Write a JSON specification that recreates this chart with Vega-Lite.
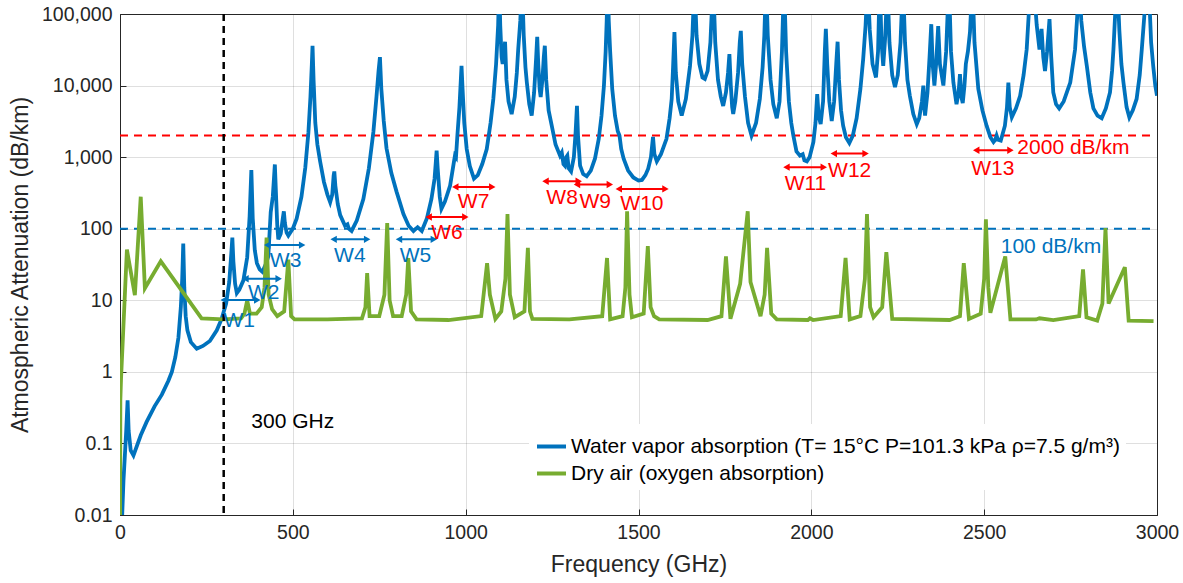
{
"$schema": "https://vega.github.io/schema/vega-lite/v6.json",
"width": 1037, "height": 501,
"autosize": {"type": "none"},
"padding": {"left": 120, "top": 14, "right": 26, "bottom": 68},
"config": {
  "font": "Liberation Sans",
  "view": {"stroke": "#262626", "strokeWidth": 1},
  "axis": {"labelFontSize": 19.5, "labelColor": "#262626", "titleFontSize": 23, "titleFontWeight": "normal", "titleColor": "#262626", "gridColor": "#262626", "gridOpacity": 0.15, "domainColor": "#262626", "tickColor": "#262626", "tickSize": -6, "labelPadding": 14, "labelFlush": false}
},
"datasets": {
  "water": [
{"freq":1,"att":0.002,"series":"water"},{"freq":10,"att":0.03,"series":"water"},{"freq":18,"att":0.15,"series":"water"},{"freq":22,"att":0.4,"series":"water"},{"freq":25,"att":0.15,"series":"water"},{"freq":31,"att":0.08,"series":"water"},{"freq":39,"att":0.068,"series":"water"},{"freq":60,"att":0.13,"series":"water"},{"freq":77,"att":0.2,"series":"water"},{"freq":100,"att":0.33,"series":"water"},{"freq":121,"att":0.48,"series":"water"},{"freq":140,"att":0.75,"series":"water"},{"freq":150,"att":1.0,"series":"water"},{"freq":160,"att":1.6,"series":"water"},{"freq":169,"att":3.0,"series":"water"},{"freq":176,"att":8,"series":"water"},{"freq":180,"att":20,"series":"water"},{"freq":183,"att":62,"series":"water"},{"freq":186,"att":15,"series":"water"},{"freq":190,"att":6,"series":"water"},{"freq":195,"att":3.8,"series":"water"},{"freq":205,"att":2.6,"series":"water"},{"freq":222,"att":2.1,"series":"water"},{"freq":240,"att":2.3,"series":"water"},{"freq":260,"att":2.7,"series":"water"},{"freq":280,"att":3.8,"series":"water"},{"freq":294,"att":5.5,"series":"water"},{"freq":307,"att":9,"series":"water"},{"freq":316,"att":18,"series":"water"},{"freq":322,"att":45,"series":"water"},{"freq":325,"att":75,"series":"water"},{"freq":328,"att":35,"series":"water"},{"freq":333,"att":17,"series":"water"},{"freq":338,"att":12.6,"series":"water"},{"freq":345,"att":14,"series":"water"},{"freq":357,"att":19,"series":"water"},{"freq":368,"att":40,"series":"water"},{"freq":375,"att":150,"series":"water"},{"freq":380,"att":660,"series":"water"},{"freq":384,"att":140,"series":"water"},{"freq":390,"att":50,"series":"water"},{"freq":396,"att":33,"series":"water"},{"freq":404,"att":27,"series":"water"},{"freq":412,"att":25,"series":"water"},{"freq":422,"att":32,"series":"water"},{"freq":429,"att":41,"series":"water"},{"freq":436,"att":170,"series":"water"},{"freq":442,"att":280,"series":"water"},{"freq":448,"att":790,"series":"water"},{"freq":452,"att":250,"series":"water"},{"freq":455,"att":110,"series":"water"},{"freq":458,"att":71,"series":"water"},{"freq":465,"att":85,"series":"water"},{"freq":471,"att":140,"series":"water"},{"freq":474,"att":175,"series":"water"},{"freq":477,"att":120,"series":"water"},{"freq":482,"att":88,"series":"water"},{"freq":487,"att":80,"series":"water"},{"freq":500,"att":100,"series":"water"},{"freq":511,"att":138,"series":"water"},{"freq":525,"att":280,"series":"water"},{"freq":536,"att":710,"series":"water"},{"freq":545,"att":2200,"series":"water"},{"freq":551,"att":7000,"series":"water"},{"freq":555,"att":20000,"series":"water"},{"freq":557,"att":36000,"series":"water"},{"freq":560,"att":12000,"series":"water"},{"freq":565,"att":3000,"series":"water"},{"freq":571,"att":1500,"series":"water"},{"freq":579,"att":870,"series":"water"},{"freq":590,"att":450,"series":"water"},{"freq":600,"att":300,"series":"water"},{"freq":608,"att":235,"series":"water"},{"freq":614,"att":300,"series":"water"},{"freq":618,"att":550,"series":"water"},{"freq":620,"att":630,"series":"water"},{"freq":623,"att":400,"series":"water"},{"freq":630,"att":220,"series":"water"},{"freq":637,"att":155,"series":"water"},{"freq":651,"att":110,"series":"water"},{"freq":658,"att":115,"series":"water"},{"freq":662,"att":100,"series":"water"},{"freq":670,"att":93,"series":"water"},{"freq":685,"att":130,"series":"water"},{"freq":704,"att":260,"series":"water"},{"freq":720,"att":700,"series":"water"},{"freq":733,"att":2250,"series":"water"},{"freq":742,"att":7000,"series":"water"},{"freq":748,"att":16000,"series":"water"},{"freq":752,"att":25000,"series":"water"},{"freq":756,"att":9000,"series":"water"},{"freq":763,"att":3200,"series":"water"},{"freq":771,"att":1330,"series":"water"},{"freq":785,"att":600,"series":"water"},{"freq":800,"att":330,"series":"water"},{"freq":820,"att":160,"series":"water"},{"freq":835,"att":110,"series":"water"},{"freq":849,"att":93,"series":"water"},{"freq":861,"att":105,"series":"water"},{"freq":873,"att":93,"series":"water"},{"freq":888,"att":140,"series":"water"},{"freq":901,"att":260,"series":"water"},{"freq":910,"att":500,"series":"water"},{"freq":914,"att":900,"series":"water"},{"freq":916,"att":1230,"series":"water"},{"freq":919,"att":700,"series":"water"},{"freq":925,"att":280,"series":"water"},{"freq":930,"att":190,"series":"water"},{"freq":940,"att":240,"series":"water"},{"freq":955,"att":400,"series":"water"},{"freq":965,"att":800,"series":"water"},{"freq":969,"att":1050,"series":"water"},{"freq":972,"att":1000,"series":"water"},{"freq":976,"att":2000,"series":"water"},{"freq":982,"att":5000,"series":"water"},{"freq":986,"att":12000,"series":"water"},{"freq":988,"att":18800,"series":"water"},{"freq":991,"att":9000,"series":"water"},{"freq":996,"att":3000,"series":"water"},{"freq":1003,"att":1300,"series":"water"},{"freq":1012,"att":750,"series":"water"},{"freq":1024,"att":500,"series":"water"},{"freq":1035,"att":560,"series":"water"},{"freq":1048,"att":800,"series":"water"},{"freq":1061,"att":1300,"series":"water"},{"freq":1072,"att":3000,"series":"water"},{"freq":1080,"att":6500,"series":"water"},{"freq":1088,"att":20000,"series":"water"},{"freq":1094,"att":70000,"series":"water"},{"freq":1097,"att":300000,"series":"water"},{"freq":1100,"att":70000,"series":"water"},{"freq":1104,"att":25000,"series":"water"},{"freq":1107,"att":20000,"series":"water"},{"freq":1111,"att":30000,"series":"water"},{"freq":1114,"att":41000,"series":"water"},{"freq":1118,"att":12000,"series":"water"},{"freq":1124,"att":6000,"series":"water"},{"freq":1133,"att":4000,"series":"water"},{"freq":1142,"att":7000,"series":"water"},{"freq":1148,"att":15000,"series":"water"},{"freq":1152,"att":32000,"series":"water"},{"freq":1158,"att":80000,"series":"water"},{"freq":1163,"att":300000,"series":"water"},{"freq":1168,"att":50000,"series":"water"},{"freq":1173,"att":18000,"series":"water"},{"freq":1177,"att":11000,"series":"water"},{"freq":1184,"att":5500,"series":"water"},{"freq":1191,"att":3800,"series":"water"},{"freq":1198,"att":8000,"series":"water"},{"freq":1204,"att":25000,"series":"water"},{"freq":1207,"att":48000,"series":"water"},{"freq":1210,"att":20000,"series":"water"},{"freq":1214,"att":9000,"series":"water"},{"freq":1217,"att":6900,"series":"water"},{"freq":1222,"att":12000,"series":"water"},{"freq":1226,"att":25000,"series":"water"},{"freq":1229,"att":36000,"series":"water"},{"freq":1233,"att":12000,"series":"water"},{"freq":1240,"att":4500,"series":"water"},{"freq":1249,"att":2750,"series":"water"},{"freq":1260,"att":1500,"series":"water"},{"freq":1273,"att":1050,"series":"water"},{"freq":1278,"att":1160,"series":"water"},{"freq":1283,"att":800,"series":"water"},{"freq":1287,"att":760,"series":"water"},{"freq":1291,"att":1000,"series":"water"},{"freq":1294,"att":1050,"series":"water"},{"freq":1298,"att":700,"series":"water"},{"freq":1305,"att":630,"series":"water"},{"freq":1313,"att":1000,"series":"water"},{"freq":1318,"att":2200,"series":"water"},{"freq":1322,"att":5200,"series":"water"},{"freq":1325,"att":2000,"series":"water"},{"freq":1331,"att":760,"series":"water"},{"freq":1340,"att":580,"series":"water"},{"freq":1350,"att":540,"series":"water"},{"freq":1362,"att":650,"series":"water"},{"freq":1374,"att":950,"series":"water"},{"freq":1385,"att":1800,"series":"water"},{"freq":1393,"att":3800,"series":"water"},{"freq":1400,"att":10000,"series":"water"},{"freq":1405,"att":30000,"series":"water"},{"freq":1408,"att":80000,"series":"water"},{"freq":1411,"att":300000,"series":"water"},{"freq":1414,"att":80000,"series":"water"},{"freq":1418,"att":30000,"series":"water"},{"freq":1424,"att":9000,"series":"water"},{"freq":1432,"att":3800,"series":"water"},{"freq":1440,"att":2300,"series":"water"},{"freq":1445,"att":2000,"series":"water"},{"freq":1450,"att":1300,"series":"water"},{"freq":1457,"att":950,"series":"water"},{"freq":1470,"att":650,"series":"water"},{"freq":1485,"att":520,"series":"water"},{"freq":1500,"att":470,"series":"water"},{"freq":1510,"att":480,"series":"water"},{"freq":1520,"att":560,"series":"water"},{"freq":1528,"att":690,"series":"water"},{"freq":1536,"att":1000,"series":"water"},{"freq":1542,"att":1920,"series":"water"},{"freq":1546,"att":1100,"series":"water"},{"freq":1553,"att":870,"series":"water"},{"freq":1565,"att":1100,"series":"water"},{"freq":1581,"att":1800,"series":"water"},{"freq":1590,"att":3500,"series":"water"},{"freq":1596,"att":6500,"series":"water"},{"freq":1600,"att":18000,"series":"water"},{"freq":1604,"att":56000,"series":"water"},{"freq":1608,"att":15000,"series":"water"},{"freq":1615,"att":6000,"series":"water"},{"freq":1625,"att":3800,"series":"water"},{"freq":1637,"att":6500,"series":"water"},{"freq":1649,"att":18800,"series":"water"},{"freq":1656,"att":50000,"series":"water"},{"freq":1662,"att":300000,"series":"water"},{"freq":1668,"att":50000,"series":"water"},{"freq":1676,"att":20000,"series":"water"},{"freq":1685,"att":13000,"series":"water"},{"freq":1692,"att":12400,"series":"water"},{"freq":1700,"att":16000,"series":"water"},{"freq":1708,"att":40000,"series":"water"},{"freq":1716,"att":300000,"series":"water"},{"freq":1722,"att":40000,"series":"water"},{"freq":1730,"att":12000,"series":"water"},{"freq":1738,"att":7000,"series":"water"},{"freq":1745,"att":5200,"series":"water"},{"freq":1753,"att":8000,"series":"water"},{"freq":1759,"att":15000,"series":"water"},{"freq":1763,"att":27500,"series":"water"},{"freq":1767,"att":10000,"series":"water"},{"freq":1771,"att":5000,"series":"water"},{"freq":1774,"att":4000,"series":"water"},{"freq":1780,"att":6000,"series":"water"},{"freq":1788,"att":15000,"series":"water"},{"freq":1793,"att":40000,"series":"water"},{"freq":1796,"att":58000,"series":"water"},{"freq":1800,"att":20000,"series":"water"},{"freq":1808,"att":7000,"series":"water"},{"freq":1817,"att":3000,"series":"water"},{"freq":1827,"att":2000,"series":"water"},{"freq":1840,"att":3000,"series":"water"},{"freq":1851,"att":6500,"series":"water"},{"freq":1859,"att":18000,"series":"water"},{"freq":1864,"att":50000,"series":"water"},{"freq":1869,"att":300000,"series":"water"},{"freq":1874,"att":50000,"series":"water"},{"freq":1882,"att":12000,"series":"water"},{"freq":1890,"att":5500,"series":"water"},{"freq":1900,"att":3500,"series":"water"},{"freq":1908,"att":6000,"series":"water"},{"freq":1915,"att":30000,"series":"water"},{"freq":1921,"att":300000,"series":"water"},{"freq":1927,"att":30000,"series":"water"},{"freq":1935,"att":6000,"series":"water"},{"freq":1942,"att":3000,"series":"water"},{"freq":1948,"att":2000,"series":"water"},{"freq":1957,"att":1200,"series":"water"},{"freq":1967,"att":1050,"series":"water"},{"freq":1975,"att":1100,"series":"water"},{"freq":1980,"att":900,"series":"water"},{"freq":1987,"att":870,"series":"water"},{"freq":1995,"att":1000,"series":"water"},{"freq":2006,"att":1630,"series":"water"},{"freq":2012,"att":3000,"series":"water"},{"freq":2017,"att":7600,"series":"water"},{"freq":2021,"att":3800,"series":"water"},{"freq":2027,"att":2900,"series":"water"},{"freq":2034,"att":6000,"series":"water"},{"freq":2039,"att":30000,"series":"water"},{"freq":2042,"att":62000,"series":"water"},{"freq":2046,"att":20000,"series":"water"},{"freq":2052,"att":6000,"series":"water"},{"freq":2059,"att":3200,"series":"water"},{"freq":2066,"att":6000,"series":"water"},{"freq":2072,"att":20000,"series":"water"},{"freq":2076,"att":41000,"series":"water"},{"freq":2080,"att":12000,"series":"water"},{"freq":2086,"att":4500,"series":"water"},{"freq":2092,"att":2750,"series":"water"},{"freq":2100,"att":1900,"series":"water"},{"freq":2110,"att":1580,"series":"water"},{"freq":2120,"att":2000,"series":"water"},{"freq":2131,"att":3500,"series":"water"},{"freq":2142,"att":9000,"series":"water"},{"freq":2150,"att":23500,"series":"water"},{"freq":2157,"att":70000,"series":"water"},{"freq":2163,"att":300000,"series":"water"},{"freq":2169,"att":60000,"series":"water"},{"freq":2177,"att":20000,"series":"water"},{"freq":2187,"att":13000,"series":"water"},{"freq":2193,"att":30000,"series":"water"},{"freq":2198,"att":300000,"series":"water"},{"freq":2203,"att":40000,"series":"water"},{"freq":2208,"att":18800,"series":"water"},{"freq":2214,"att":50000,"series":"water"},{"freq":2220,"att":300000,"series":"water"},{"freq":2226,"att":40000,"series":"water"},{"freq":2234,"att":14000,"series":"water"},{"freq":2242,"att":9500,"series":"water"},{"freq":2250,"att":14000,"series":"water"},{"freq":2258,"att":40000,"series":"water"},{"freq":2265,"att":300000,"series":"water"},{"freq":2271,"att":40000,"series":"water"},{"freq":2278,"att":12000,"series":"water"},{"freq":2285,"att":7200,"series":"water"},{"freq":2295,"att":4000,"series":"water"},{"freq":2305,"att":2900,"series":"water"},{"freq":2312,"att":3500,"series":"water"},{"freq":2320,"att":6000,"series":"water"},{"freq":2324,"att":10000,"series":"water"},{"freq":2327,"att":5000,"series":"water"},{"freq":2329,"att":3800,"series":"water"},{"freq":2336,"att":8000,"series":"water"},{"freq":2342,"att":25000,"series":"water"},{"freq":2347,"att":72000,"series":"water"},{"freq":2351,"att":20000,"series":"water"},{"freq":2356,"att":10000,"series":"water"},{"freq":2361,"att":20000,"series":"water"},{"freq":2367,"att":68000,"series":"water"},{"freq":2372,"att":20000,"series":"water"},{"freq":2382,"att":10000,"series":"water"},{"freq":2390,"att":30000,"series":"water"},{"freq":2398,"att":300000,"series":"water"},{"freq":2404,"att":30000,"series":"water"},{"freq":2411,"att":11000,"series":"water"},{"freq":2420,"att":5500,"series":"water"},{"freq":2426,"att":8000,"series":"water"},{"freq":2430,"att":14500,"series":"water"},{"freq":2434,"att":7000,"series":"water"},{"freq":2438,"att":5700,"series":"water"},{"freq":2443,"att":10000,"series":"water"},{"freq":2447,"att":20000,"series":"water"},{"freq":2453,"att":30000,"series":"water"},{"freq":2459,"att":56000,"series":"water"},{"freq":2466,"att":300000,"series":"water"},{"freq":2472,"att":40000,"series":"water"},{"freq":2483,"att":9000,"series":"water"},{"freq":2495,"att":4500,"series":"water"},{"freq":2507,"att":2750,"series":"water"},{"freq":2518,"att":1900,"series":"water"},{"freq":2527,"att":1630,"series":"water"},{"freq":2532,"att":1750,"series":"water"},{"freq":2536,"att":2000,"series":"water"},{"freq":2540,"att":1750,"series":"water"},{"freq":2548,"att":1700,"series":"water"},{"freq":2560,"att":2750,"series":"water"},{"freq":2566,"att":5000,"series":"water"},{"freq":2570,"att":11000,"series":"water"},{"freq":2574,"att":5000,"series":"water"},{"freq":2580,"att":3600,"series":"water"},{"freq":2592,"att":4800,"series":"water"},{"freq":2604,"att":7200,"series":"water"},{"freq":2614,"att":14000,"series":"water"},{"freq":2623,"att":32000,"series":"water"},{"freq":2629,"att":100000,"series":"water"},{"freq":2636,"att":300000,"series":"water"},{"freq":2645,"att":200000,"series":"water"},{"freq":2652,"att":70000,"series":"water"},{"freq":2660,"att":32000,"series":"water"},{"freq":2666,"att":62000,"series":"water"},{"freq":2671,"att":25000,"series":"water"},{"freq":2676,"att":16000,"series":"water"},{"freq":2682,"att":30000,"series":"water"},{"freq":2689,"att":85000,"series":"water"},{"freq":2694,"att":25000,"series":"water"},{"freq":2700,"att":8000,"series":"water"},{"freq":2708,"att":5500,"series":"water"},{"freq":2717,"att":4800,"series":"water"},{"freq":2730,"att":6000,"series":"water"},{"freq":2749,"att":11000,"series":"water"},{"freq":2763,"att":32000,"series":"water"},{"freq":2769,"att":90000,"series":"water"},{"freq":2775,"att":300000,"series":"water"},{"freq":2781,"att":80000,"series":"water"},{"freq":2789,"att":35000,"series":"water"},{"freq":2797,"att":18800,"series":"water"},{"freq":2807,"att":8000,"series":"water"},{"freq":2816,"att":4800,"series":"water"},{"freq":2828,"att":3800,"series":"water"},{"freq":2840,"att":3500,"series":"water"},{"freq":2852,"att":4800,"series":"water"},{"freq":2864,"att":8000,"series":"water"},{"freq":2870,"att":16000,"series":"water"},{"freq":2874,"att":32000,"series":"water"},{"freq":2879,"att":100000,"series":"water"},{"freq":2885,"att":300000,"series":"water"},{"freq":2891,"att":60000,"series":"water"},{"freq":2897,"att":20000,"series":"water"},{"freq":2903,"att":11000,"series":"water"},{"freq":2912,"att":5000,"series":"water"},{"freq":2920,"att":3600,"series":"water"},{"freq":2930,"att":4500,"series":"water"},{"freq":2941,"att":6500,"series":"water"},{"freq":2950,"att":14000,"series":"water"},{"freq":2956,"att":32000,"series":"water"},{"freq":2963,"att":90000,"series":"water"},{"freq":2970,"att":300000,"series":"water"},{"freq":2977,"att":200000,"series":"water"},{"freq":2983,"att":40000,"series":"water"},{"freq":2989,"att":18800,"series":"water"},{"freq":2995,"att":10000,"series":"water"},{"freq":3000,"att":7200,"series":"water"}
  ],
  "dry": [
{"freq":0,"att":0.002,"series":"dry"},{"freq":1,"att":0.4,"series":"dry"},{"freq":3,"att":0.8,"series":"dry"},{"freq":20,"att":51,"series":"dry"},{"freq":43,"att":11.8,"series":"dry"},{"freq":60,"att":280,"series":"dry"},{"freq":72,"att":14.7,"series":"dry"},{"freq":118,"att":35,"series":"dry"},{"freq":236,"att":5.6,"series":"dry"},{"freq":300,"att":5.4,"series":"dry"},{"freq":350,"att":5.6,"series":"dry"},{"freq":360,"att":6.5,"series":"dry"},{"freq":368,"att":10,"series":"dry"},{"freq":376,"att":6.5,"series":"dry"},{"freq":395,"att":6.5,"series":"dry"},{"freq":410,"att":8,"series":"dry"},{"freq":418,"att":15,"series":"dry"},{"freq":424,"att":75,"series":"dry"},{"freq":430,"att":12,"series":"dry"},{"freq":440,"att":7.5,"series":"dry"},{"freq":455,"att":6,"series":"dry"},{"freq":475,"att":7,"series":"dry"},{"freq":487,"att":37,"series":"dry"},{"freq":495,"att":6,"series":"dry"},{"freq":505,"att":5.4,"series":"dry"},{"freq":600,"att":5.4,"series":"dry"},{"freq":700,"att":5.6,"series":"dry"},{"freq":710,"att":8,"series":"dry"},{"freq":715,"att":24,"series":"dry"},{"freq":722,"att":6,"series":"dry"},{"freq":750,"att":6,"series":"dry"},{"freq":765,"att":12,"series":"dry"},{"freq":773,"att":120,"series":"dry"},{"freq":780,"att":10,"series":"dry"},{"freq":790,"att":6,"series":"dry"},{"freq":815,"att":6,"series":"dry"},{"freq":828,"att":12,"series":"dry"},{"freq":834,"att":39,"series":"dry"},{"freq":842,"att":7,"series":"dry"},{"freq":858,"att":5.4,"series":"dry"},{"freq":950,"att":5.3,"series":"dry"},{"freq":1045,"att":6,"series":"dry"},{"freq":1062,"att":33,"series":"dry"},{"freq":1070,"att":12,"series":"dry"},{"freq":1086,"att":5.5,"series":"dry"},{"freq":1103,"att":7,"series":"dry"},{"freq":1115,"att":20,"series":"dry"},{"freq":1121,"att":160,"series":"dry"},{"freq":1128,"att":12,"series":"dry"},{"freq":1142,"att":5.8,"series":"dry"},{"freq":1170,"att":7,"series":"dry"},{"freq":1180,"att":54,"series":"dry"},{"freq":1186,"att":7,"series":"dry"},{"freq":1193,"att":5.5,"series":"dry"},{"freq":1300,"att":5.4,"series":"dry"},{"freq":1395,"att":6,"series":"dry"},{"freq":1409,"att":39,"series":"dry"},{"freq":1418,"att":5.4,"series":"dry"},{"freq":1454,"att":6,"series":"dry"},{"freq":1462,"att":15,"series":"dry"},{"freq":1467,"att":175,"series":"dry"},{"freq":1474,"att":12,"series":"dry"},{"freq":1481,"att":5.8,"series":"dry"},{"freq":1515,"att":6.5,"series":"dry"},{"freq":1527,"att":57,"series":"dry"},{"freq":1535,"att":8,"series":"dry"},{"freq":1545,"att":6,"series":"dry"},{"freq":1560,"att":5.4,"series":"dry"},{"freq":1700,"att":5.3,"series":"dry"},{"freq":1740,"att":6,"series":"dry"},{"freq":1753,"att":41,"series":"dry"},{"freq":1766,"att":5.5,"series":"dry"},{"freq":1794,"att":17,"series":"dry"},{"freq":1816,"att":175,"series":"dry"},{"freq":1824,"att":18,"series":"dry"},{"freq":1853,"att":6,"series":"dry"},{"freq":1865,"att":12,"series":"dry"},{"freq":1872,"att":54,"series":"dry"},{"freq":1884,"att":6.5,"series":"dry"},{"freq":1900,"att":5.4,"series":"dry"},{"freq":1990,"att":5.3,"series":"dry"},{"freq":1996,"att":5.6,"series":"dry"},{"freq":2005,"att":5.3,"series":"dry"},{"freq":2085,"att":6,"series":"dry"},{"freq":2099,"att":39,"series":"dry"},{"freq":2111,"att":5.4,"series":"dry"},{"freq":2142,"att":6,"series":"dry"},{"freq":2155,"att":20,"series":"dry"},{"freq":2161,"att":160,"series":"dry"},{"freq":2170,"att":8,"series":"dry"},{"freq":2180,"att":5.8,"series":"dry"},{"freq":2205,"att":8,"series":"dry"},{"freq":2217,"att":47,"series":"dry"},{"freq":2234,"att":5.5,"series":"dry"},{"freq":2400,"att":5.3,"series":"dry"},{"freq":2430,"att":6,"series":"dry"},{"freq":2441,"att":33,"series":"dry"},{"freq":2456,"att":5.5,"series":"dry"},{"freq":2490,"att":6.5,"series":"dry"},{"freq":2500,"att":20,"series":"dry"},{"freq":2505,"att":135,"series":"dry"},{"freq":2512,"att":15,"series":"dry"},{"freq":2518,"att":6.7,"series":"dry"},{"freq":2561,"att":41,"series":"dry"},{"freq":2576,"att":5.4,"series":"dry"},{"freq":2650,"att":5.4,"series":"dry"},{"freq":2660,"att":5.6,"series":"dry"},{"freq":2700,"att":5.3,"series":"dry"},{"freq":2775,"att":6,"series":"dry"},{"freq":2786,"att":27,"series":"dry"},{"freq":2796,"att":5.8,"series":"dry"},{"freq":2827,"att":5.2,"series":"dry"},{"freq":2842,"att":9,"series":"dry"},{"freq":2851,"att":102,"series":"dry"},{"freq":2860,"att":9,"series":"dry"},{"freq":2907,"att":29,"series":"dry"},{"freq":2918,"att":5.2,"series":"dry"},{"freq":2990,"att":5.1,"series":"dry"}
  ],
  "limits": [
    {"level": "100", "att": 100, "start": 0, "end": 2980, "label": "100 dB/km", "labelFreq": 2548, "labelAtt": 56},
    {"level": "2000", "att": 2000, "start": 0, "end": 2980, "label": "2000 dB/km", "labelFreq": 2596, "labelAtt": 1350}
  ],
  "windows": [
    {"name": "W1", "level": "100", "from": 300, "to": 397, "att": 10.1, "textFreq": 345, "textAtt": 5.2},
    {"name": "W2", "level": "100", "from": 363, "to": 459, "att": 20, "textFreq": 416, "textAtt": 12.6},
    {"name": "W3", "level": "100", "from": 426, "to": 527, "att": 59, "textFreq": 479, "textAtt": 35},
    {"name": "W4", "level": "100", "from": 618, "to": 715, "att": 71, "textFreq": 665, "textAtt": 41},
    {"name": "W5", "level": "100", "from": 807, "to": 908, "att": 71, "textFreq": 855, "textAtt": 41},
    {"name": "W6", "level": "2000", "from": 893, "to": 999, "att": 146, "textFreq": 946, "textAtt": 87},
    {"name": "W7", "level": "2000", "from": 970, "to": 1077, "att": 384, "textFreq": 1023, "textAtt": 240},
    {"name": "W8", "level": "2000", "from": 1231, "to": 1327, "att": 460, "textFreq": 1279, "textAtt": 270},
    {"name": "W9", "level": "2000", "from": 1322, "to": 1417, "att": 415, "textFreq": 1375, "textAtt": 240},
    {"name": "W10", "level": "2000", "from": 1443, "to": 1578, "att": 360, "textFreq": 1510, "textAtt": 224},
    {"name": "W11", "level": "2000", "from": 1928, "to": 2036, "att": 725, "textFreq": 1983, "textAtt": 415},
    {"name": "W12", "level": "2000", "from": 2065, "to": 2157, "att": 1120, "textFreq": 2111, "textAtt": 635},
    {"name": "W13", "level": "2000", "from": 2477, "to": 2576, "att": 1245, "textFreq": 2525, "textAtt": 684}
  ]
},
"layer": [
  {
    "data": {"name": "limits"},
    "mark": {"type": "rule", "strokeDash": [8, 6], "strokeWidth": 2},
    "encoding": {
      "x": {"field": "start", "type": "quantitative", "scale": {"domain": [0, 3000], "nice": false}, "axis": {"values": [0, 500, 1000, 1500, 2000, 2500, 3000], "format": "d", "title": "Frequency (GHz)", "titlePadding": 12}},
      "x2": {"field": "end"},
      "y": {"field": "att", "type": "quantitative", "scale": {"type": "log", "domain": [0.01, 100000], "nice": false}, "axis": {"values": [0.01, 0.1, 1, 10, 100, 1000, 10000, 100000], "format": ",~f", "title": "Atmospheric Attenuation (dB/km)", "titlePadding": 9}},
      "stroke": {"field": "level", "type": "nominal", "scale": {"domain": ["100", "2000"], "range": ["#0072BD", "#FF0000"]}, "legend": null}
    }
  },
  {
    "data": {"name": "water"},
    "mark": {"type": "line", "strokeWidth": 3.8, "clip": true},
    "encoding": {
      "x": {"field": "freq", "type": "quantitative"},
      "y": {"field": "att", "type": "quantitative"},
      "color": {"field": "series", "type": "nominal", "scale": {"domain": ["water", "dry"], "range": ["#0072BD", "#77AC30"]},
        "legend": {"orient": "none", "legendX": 409, "legendY": 410, "title": null, "fillColor": "white", "padding": 6, "symbolType": "stroke", "symbolSize": 841, "symbolStrokeWidth": 4, "labelFontSize": 21, "labelColor": "#000000", "labelOffset": 3, "rowPadding": 0, "labelLimit": 800,
          "labelExpr": "datum.label == 'water' ? 'Water vapor absorption (T= 15°C P=101.3 kPa ρ=7.5 g/m³)' : 'Dry air (oxygen absorption)'"}}
    }
  },
  {
    "data": {"name": "dry"},
    "mark": {"type": "line", "strokeWidth": 3.8, "clip": true},
    "encoding": {
      "x": {"field": "freq", "type": "quantitative"},
      "y": {"field": "att", "type": "quantitative"},
      "color": {"field": "series", "type": "nominal"}
    }
  },
  {
    "data": {"values": [{"freq": 300}]},
    "mark": {"type": "rule", "color": "#000000", "strokeDash": [7, 5], "strokeWidth": 2.5},
    "encoding": {"x": {"field": "freq", "type": "quantitative"}}
  },
  {
    "data": {"name": "windows"},
    "mark": {"type": "rule", "strokeWidth": 2},
    "encoding": {
      "x": {"field": "from", "type": "quantitative"},
      "x2": {"field": "to"},
      "y": {"field": "att", "type": "quantitative"},
      "stroke": {"field": "level", "type": "nominal"}
    }
  },
  {
    "data": {"name": "windows"},
    "mark": {"type": "point", "shape": "triangle-left", "filled": true, "size": 55, "opacity": 1, "strokeWidth": 0},
    "encoding": {
      "x": {"field": "from", "type": "quantitative"},
      "y": {"field": "att", "type": "quantitative"},
      "fill": {"field": "level", "type": "nominal", "scale": {"domain": ["100", "2000"], "range": ["#0072BD", "#FF0000"]}, "legend": null}
    }
  },
  {
    "data": {"name": "windows"},
    "mark": {"type": "point", "shape": "triangle-right", "filled": true, "size": 55, "opacity": 1, "strokeWidth": 0},
    "encoding": {
      "x": {"field": "to", "type": "quantitative"},
      "y": {"field": "att", "type": "quantitative"},
      "fill": {"field": "level", "type": "nominal"}
    }
  },
  {
    "data": {"name": "windows"},
    "mark": {"type": "text", "fontSize": 21, "align": "center", "baseline": "middle"},
    "encoding": {
      "x": {"field": "textFreq", "type": "quantitative"},
      "y": {"field": "textAtt", "type": "quantitative"},
      "text": {"field": "name"},
      "fill": {"field": "level", "type": "nominal"}
    }
  },
  {
    "data": {"name": "limits"},
    "mark": {"type": "text", "fontSize": 21, "align": "left", "baseline": "middle"},
    "encoding": {
      "x": {"field": "labelFreq", "type": "quantitative"},
      "y": {"field": "labelAtt", "type": "quantitative"},
      "text": {"field": "label"},
      "fill": {"field": "level", "type": "nominal"}
    }
  },
  {
    "data": {"values": [{"freq": 380, "att": 0.2, "label": "300 GHz"}]},
    "mark": {"type": "text", "fontSize": 21, "align": "left", "baseline": "middle", "color": "#000000"},
    "encoding": {
      "x": {"field": "freq", "type": "quantitative"},
      "y": {"field": "att", "type": "quantitative"},
      "text": {"field": "label"}
    }
  }
]
}
